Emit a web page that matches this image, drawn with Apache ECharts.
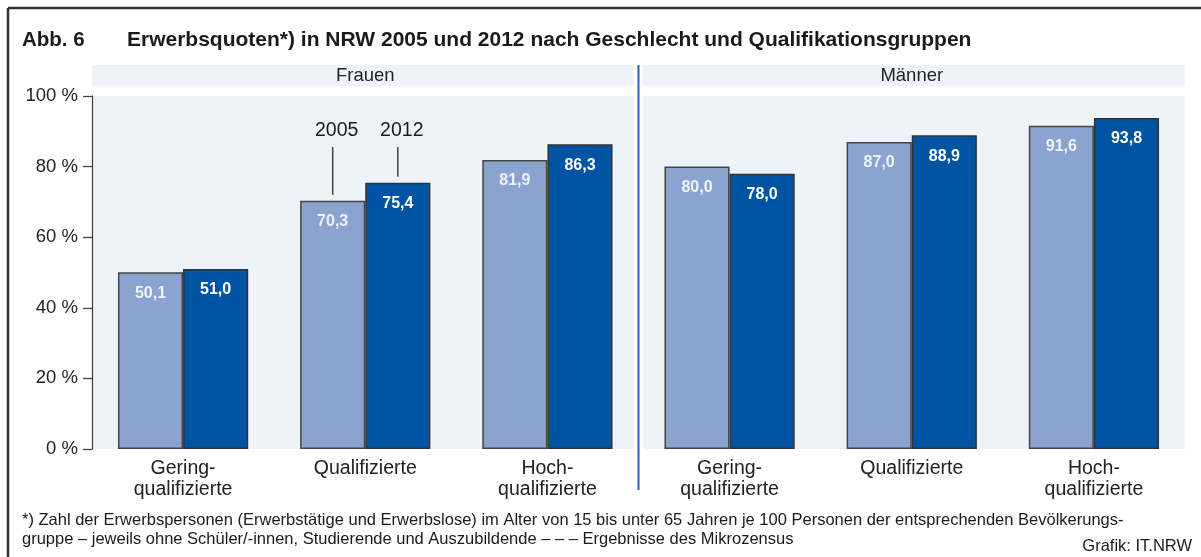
<!DOCTYPE html>
<html>
<head>
<meta charset="utf-8">
<script src="https://cdn.jsdelivr.net/npm/echarts@6/dist/echarts.min.js"></script>
<style>
  html, body { margin: 0; padding: 0; background: #fff; }
  #chart { width: 1201px; height: 557px; }
</style>
</head>
<body>
<div id="chart"></div>
<script>
const categories = [
  'Gering-\nqualifizierte', 'Qualifizierte', 'Hoch-\nqualifizierte',
  'Gering-\nqualifizierte', 'Qualifizierte', 'Hoch-\nqualifizierte'
]
const groups = ['Frauen', 'Männer']
const values2005 = [50.1, 70.3, 81.9, 80.0, 87.0, 91.6]
const values2012 = [51.0, 75.4, 86.3, 78.0, 88.9, 93.8]
const yTicks = [0, 20, 40, 60, 80, 100]
const callout = { index: 1, labels: ['2005', '2012'] }

const font = '"Liberation Sans", Arial, sans-serif'
const light = '#8ba3cf'
const dark = '#0054a2'
const bg = '#eef3fa'

const chart = echarts.init(document.getElementById('chart'))

const fmt = (p) => p.value.toFixed(1).replace('.', ',')

const barLabel = (color) => ({
    show: true,
    position: 'insideTop',
    distance: 13,
    color: color,
    fontFamily: font,
    fontWeight: 'bold',
    fontSize: 16,
    formatter: fmt
})

chart.setOption({
    animation: false,
    backgroundColor: '#fff',
    grid: {
        left: 92, right: 16, top: 96, bottom: 108,
        show: true, backgroundColor: bg, borderWidth: 0
    },
    xAxis: {
        type: 'category',
        data: categories,
        axisLine: { show: false },
        axisTick: { show: false },
        axisLabel: {
            color: '#222', fontFamily: font, fontSize: 19.5,
            lineHeight: 21, margin: 9, interval: 0
        }
    },
    yAxis: {
        type: 'value',
        min: yTicks[0],
        max: yTicks[yTicks.length - 1],
        interval: 20,
        splitLine: { show: false },
        axisLine: { show: true, lineStyle: { color: '#444', width: 1.3 } },
        axisTick: { show: true, length: 9, lineStyle: { color: '#444', width: 1.3 } },
        axisLabel: {
            color: '#222', fontFamily: font, fontSize: 18.5, margin: 14,
            formatter: (v) => v + ' %'
        }
    },
    series: [
        {
            name: '2005', type: 'bar', data: values2005,
            barGap: '0%', barCategoryGap: '28.5%',
            itemStyle: { color: light, borderColor: '#444', borderWidth: 1.5 },
            label: barLabel('#eef2fa')
        },
        {
            name: '2012', type: 'bar', data: values2012,
            barGap: '0%', barCategoryGap: '28.5%',
            itemStyle: { color: dark, borderColor: '#333', borderWidth: 1.5 },
            label: barLabel('#ffffff')
        }
    ]
})

// positions derived from the axes
const left = chart.convertToPixel({ xAxisIndex: 0 }, 0)
const step = chart.convertToPixel({ xAxisIndex: 0 }, 1) - left
const gridLeft = left - step / 2
const gridRight = left + step * 5.5
const divX = left + step * 2.5
const yTop = chart.convertToPixel({ yAxisIndex: 0 }, 100)
const yZero = chart.convertToPixel({ yAxisIndex: 0 }, 0)

const graphics = [
    // frame
    { type: 'line', shape: { x1: 8, y1: 8, x2: 1201, y2: 8 }, style: { stroke: '#333', lineWidth: 2.5 } },
    { type: 'line', shape: { x1: 8, y1: 8, x2: 8, y2: 557 }, style: { stroke: '#333', lineWidth: 2.5 } },
    // title
    { type: 'text', x: 22, y: 40, style: { text: 'Abb. 6', font: 'bold 20.5px ' + font, fill: '#1a1a1a', verticalAlign: 'middle' } },
    { type: 'text', x: 127, y: 40, style: { text: 'Erwerbsquoten*) in NRW 2005 und 2012 nach Geschlecht und Qualifikationsgruppen', font: 'bold 21px ' + font, fill: '#1a1a1a', verticalAlign: 'middle' } },
    // group bands
    { type: 'rect', shape: { x: gridLeft, y: 65, width: divX - 5 - gridLeft, height: 21 }, style: { fill: bg } },
    { type: 'rect', shape: { x: divX + 4, y: 65, width: gridRight - divX - 4, height: 21 }, style: { fill: bg } },
    { type: 'text', x: (gridLeft + divX) / 2, y: 75.5, style: { text: groups[0], font: '18.5px ' + font, fill: '#222', align: 'center', verticalAlign: 'middle' } },
    { type: 'text', x: (divX + gridRight) / 2, y: 75.5, style: { text: groups[1], font: '18.5px ' + font, fill: '#222', align: 'center', verticalAlign: 'middle' } },
    // divider
    { type: 'rect', shape: { x: divX - 5, y: yTop, width: 9, height: yZero - yTop + 3 }, style: { fill: '#fff' } },
    { type: 'line', shape: { x1: divX, y1: 65, x2: divX, y2: 490 }, style: { stroke: '#2a64b0', lineWidth: 2 } },
    // footnote
    { type: 'text', x: 22, y: 511, style: { text: '*) Zahl der Erwerbspersonen (Erwerbstätige und Erwerbslose) im Alter von 15 bis unter 65 Jahren je 100 Personen der entsprechenden Bevölkerungs-\ngruppe – jeweils ohne Schüler/-innen, Studierende und Auszubildende – – – Ergebnisse des Mikrozensus', font: '16.5px ' + font, fill: '#1a1a1a', lineHeight: 19 } },
    { type: 'text', x: 1192, y: 546, style: { text: 'Grafik: IT.NRW', font: '16.5px ' + font, fill: '#1a1a1a', align: 'right', verticalAlign: 'middle' } }
]

// 2005 / 2012 callout on the Qualifizierte (Frauen) bars
const barW = step * (1 - 0.285) / 2
const cx = left + step * callout.index
;[values2005, values2012].forEach((vals, i) => {
    const x = cx + (i === 0 ? -barW / 2 : barW / 2)
    const yBar = chart.convertToPixel({ yAxisIndex: 0 }, vals[callout.index])
    graphics.push({ type: 'line', shape: { x1: x, y1: 147, x2: x, y2: yBar - 6 }, style: { stroke: '#444', lineWidth: 1.5 } })
    graphics.push({ type: 'text', x: x + 4, y: 131, style: { text: callout.labels[i], font: '19.5px ' + font, fill: '#1a1a1a', align: 'center', verticalAlign: 'middle' } })
})

chart.setOption({ graphic: graphics })
</script>
</body>
</html>
